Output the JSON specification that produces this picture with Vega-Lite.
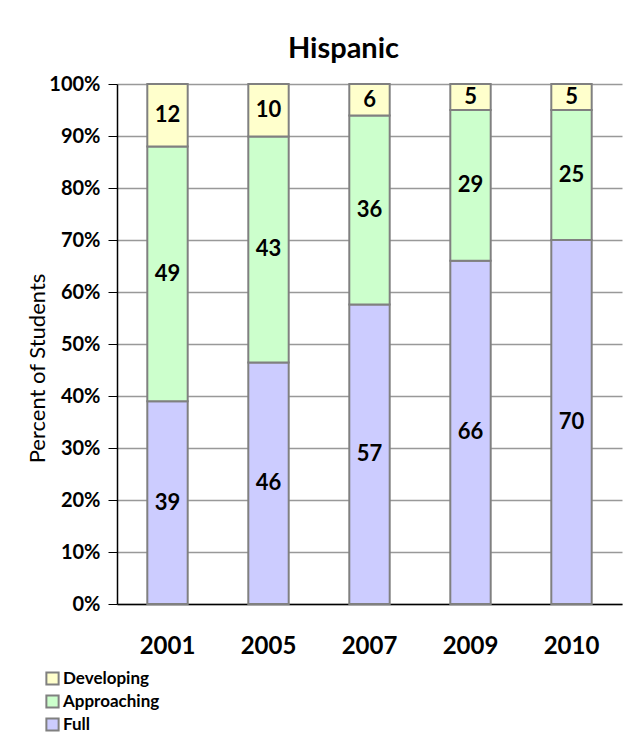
{
  "$schema": "https://vega.github.io/schema/vega-lite/v6.json",
  "width": 505,
  "height": 520,
  "autosize": {"type": "none"},
  "padding": {"left": 117, "top": 84, "right": 7, "bottom": 141},
  "background": "white",
  "title": {
    "text": "Hispanic",
    "font": "Lato",
    "fontSize": 29,
    "fontWeight": "bold",
    "color": "black",
    "anchor": "middle",
    "frame": "group",
    "offset": 10,
    "dx": -26
  },
  "data": {
    "values": [
      {"year": "2001", "level": "Full", "pct": 39},
      {"year": "2001", "level": "Approaching", "pct": 49},
      {"year": "2001", "level": "Developing", "pct": 12},
      {"year": "2005", "level": "Full", "pct": 46},
      {"year": "2005", "level": "Approaching", "pct": 43},
      {"year": "2005", "level": "Developing", "pct": 10},
      {"year": "2007", "level": "Full", "pct": 57},
      {"year": "2007", "level": "Approaching", "pct": 36},
      {"year": "2007", "level": "Developing", "pct": 6},
      {"year": "2009", "level": "Full", "pct": 66},
      {"year": "2009", "level": "Approaching", "pct": 29},
      {"year": "2009", "level": "Developing", "pct": 5},
      {"year": "2010", "level": "Full", "pct": 70},
      {"year": "2010", "level": "Approaching", "pct": 25},
      {"year": "2010", "level": "Developing", "pct": 5}
    ]
  },
  "transform": [
    {"calculate": "indexof(['Full','Approaching','Developing'], datum.level)", "as": "ord"},
    {"stack": "pct", "groupby": ["year"], "sort": [{"field": "ord", "order": "ascending"}], "as": ["y0", "y1"], "offset": "normalize"},
    {"calculate": "(datum.y0 + datum.y1) / 2", "as": "mid"}
  ],
  "encoding": {
    "x": {
      "field": "year",
      "type": "nominal",
      "scale": {"paddingInner": 0.6, "paddingOuter": 0.3},
      "axis": {
        "title": null,
        "labelAngle": 0,
        "ticks": false,
        "domainColor": "black",
        "domainWidth": 1.5,
        "labelFont": "Lato",
        "labelFontWeight": "bold",
        "labelFontSize": 24,
        "labelColor": "black",
        "labelPadding": 30,
        "grid": false
      }
    }
  },
  "layer": [
    {
      "mark": {"type": "bar", "stroke": "#808080", "strokeWidth": 2},
      "encoding": {
        "y": {
          "field": "y0",
          "type": "quantitative",
          "scale": {"domain": [0, 1], "nice": false},
          "axis": {
            "format": ".0%",
            "values": [0, 0.1, 0.2, 0.3, 0.4, 0.5, 0.6, 0.7, 0.8, 0.9, 1],
            "labelFont": "Lato",
            "labelFontWeight": "bold",
            "labelFontSize": 20,
            "labelColor": "black",
            "labelPadding": 8,
            "tickSize": 9,
            "tickColor": "black",
            "domainColor": "black",
            "domainWidth": 1.5,
            "gridColor": "#999999",
            "gridWidth": 1.5,
            "title": "Percent of Students",
            "titleFont": "Lato",
            "titleFontWeight": "normal",
            "titleFontSize": 22,
            "titleColor": "black",
            "titleAngle": -90,
            "titleAlign": "center",
            "titleBaseline": "middle",
            "titleX": -80,
            "titleY": 284
          }
        },
        "y2": {"field": "y1"},
        "color": {
          "field": "level",
          "type": "nominal",
          "scale": {
            "domain": ["Developing", "Approaching", "Full"],
            "range": ["#FFFFCC", "#CCFFCC", "#CCCCFF"]
          },
          "legend": {
            "title": null,
            "orient": "none",
            "legendX": -73,
            "legendY": 586,
            "symbolType": "square",
            "symbolSize": 150,
            "symbolStrokeColor": "#808080",
            "symbolStrokeWidth": 2,
            "labelFont": "Lato",
            "labelFontWeight": "bold",
            "labelFontSize": 17,
            "labelColor": "black",
            "labelOffset": 2,
            "rowPadding": 2
          }
        }
      }
    },
    {
      "mark": {"type": "text", "font": "Lato", "fontWeight": "bold", "fontSize": 22, "color": "black", "baseline": "middle"},
      "encoding": {
        "y": {"field": "mid", "type": "quantitative"},
        "text": {"field": "pct", "type": "quantitative"}
      }
    }
  ],
  "config": {
    "view": {"stroke": null}
  }
}
